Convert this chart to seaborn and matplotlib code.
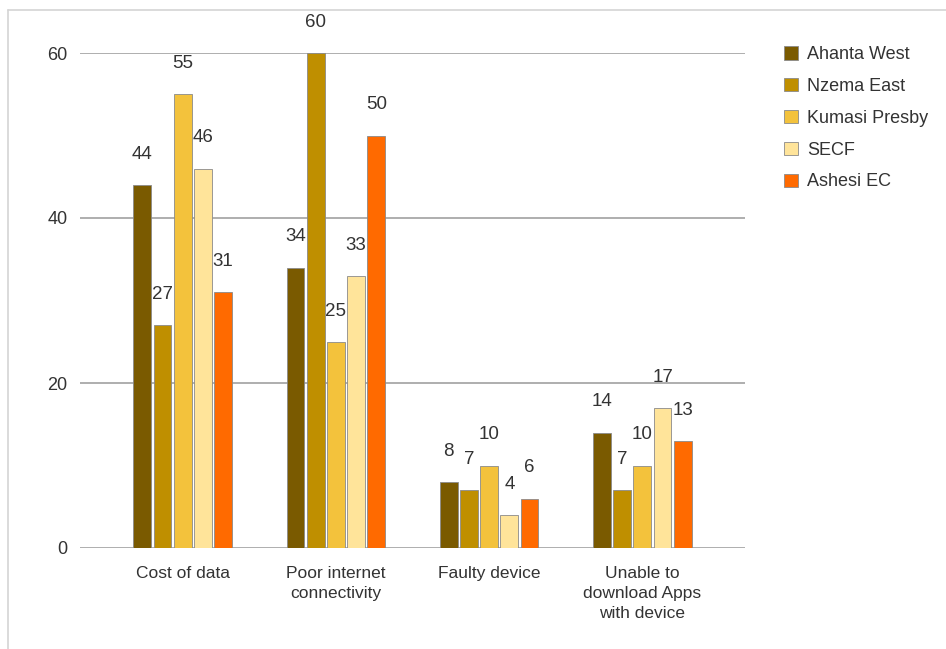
import matplotlib
matplotlib.use("Agg")
import matplotlib.pyplot as plt
from matplotlib.lines import Line2D
from matplotlib.patches import Patch
import seaborn as sns
import pandas as pd

# Barriers to online learning, by school
categories = [
    "Cost of data",
    "Poor internet\nconnectivity",
    "Faulty device",
    "Unable to\ndownload Apps\nwith device",
]
schools = ["Ahanta West", "Nzema East", "Kumasi Presby", "SECF", "Ashesi EC"]
ahanta_west = [44, 34, 8, 14]
nzema_east = [27, 60, 7, 7]
kumasi_presby = [55, 25, 10, 10]
secf = [46, 33, 4, 17]
ashesi_ec = [31, 50, 6, 13]
y_ticks = [0, 20, 40, 60]

colors = ["#7a5a00", "#bf8f00", "#f3c23c", "#ffe49a", "#ff6a00"]

series = [ahanta_west, nzema_east, kumasi_presby, secf, ashesi_ec]
rows = []
for school, values in zip(schools, series):
    for cat, v in zip(categories, values):
        rows.append({"category": cat, "school": school, "value": v})
df = pd.DataFrame(rows)

sns.set_theme(style="white")
plt.rcParams["font.family"] = ["Liberation Sans", "DejaVu Sans"]
text_color = "#333333"

fig = plt.figure(figsize=(9.46, 6.49), dpi=100)
ax = fig.add_axes([80 / 946, 1 - 548 / 649, (745 - 80) / 946, (548 - 53) / 649])

sns.barplot(
    data=df, x="category", y="value", hue="school",
    order=categories, hue_order=schools, palette=colors, saturation=1,
    width=0.66, gap=0.12, edgecolor="#8a8a8a", linewidth=0.6,
    ax=ax, legend=False,
)

for container in ax.containers:
    ax.bar_label(container, fmt="{:.0f}", padding=16, fontsize=13.5,
                 color=text_color)

ax.set_xlim(-0.67, 3.67)
ax.set_ylim(0, 60)
ax.set_yticks(y_ticks)
ax.yaxis.grid(True, color="#a8a8a8", linewidth=1.3)
ax.set_axisbelow(True)
for s in ax.spines.values():
    s.set_visible(False)
ax.tick_params(axis="y", length=0, pad=9, labelsize=13, labelcolor=text_color)
ax.tick_params(axis="x", length=0, pad=13, labelsize=12.5, labelcolor=text_color)
for lbl in ax.get_xticklabels():
    lbl.set_linespacing(1.4)
ax.set_xlabel("")
ax.set_ylabel("")

handles = [Patch(facecolor=c, edgecolor="#8a8a8a", linewidth=0.6) for c in colors]
fig.legend(
    handles, schools, loc="upper left", bbox_to_anchor=(768 / 946, 1 - 30 / 649),
    frameon=False, fontsize=13, handlelength=0.75, handleheight=0.75,
    handletextpad=0.5, labelspacing=0.82, labelcolor=text_color,
)

# light frame along the top and left edges
fig.add_artist(Line2D([8 / 946, 1], [1 - 10 / 649, 1 - 10 / 649],
                      transform=fig.transFigure, color="#d4d4d4", linewidth=1.2))
fig.add_artist(Line2D([8 / 946, 8 / 946], [0, 1 - 10 / 649],
                      transform=fig.transFigure, color="#d4d4d4", linewidth=1.2))

fig.savefig("out.png", dpi=100)
